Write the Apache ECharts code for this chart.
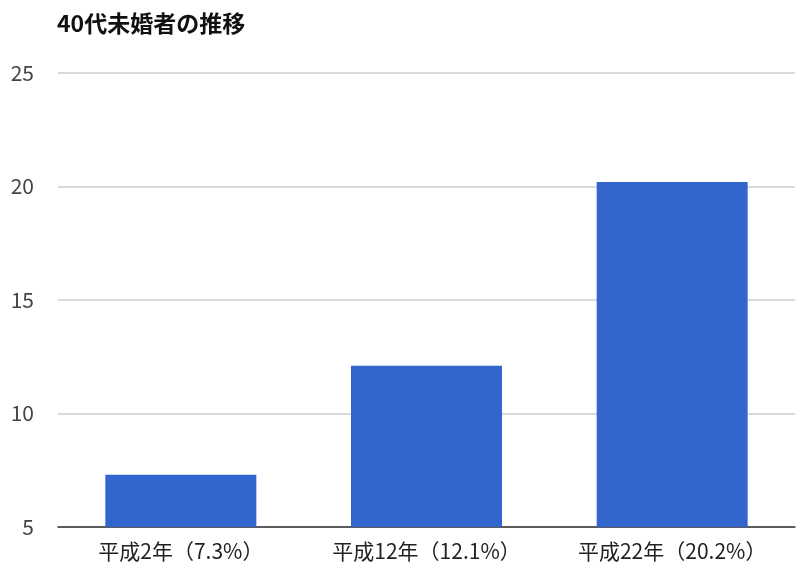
<!DOCTYPE html>
<html>
<head>
<meta charset="utf-8">
<script src="https://cdn.jsdelivr.net/npm/echarts@6/dist/echarts.min.js"></script>
<style>
html, body { margin: 0; padding: 0; background: #fff; }
#main { width: 800px; height: 576px; }
</style>
</head>
<body>
<div id="main"></div>
<script>
var categories = ['平成2年（7.3%）', '平成12年（12.1%）', '平成22年（20.2%）'];
var values = [7.3, 12.1, 20.2];
var yTicks = [5, 10, 15, 20, 25];

var font = '"Noto Sans CJK JP", "Noto Sans", sans-serif';

var chart = echarts.init(document.getElementById('main'));
chart.setOption({
    animation: false,
    title: {
        text: '40代未婚者の推移',
        left: 52,
        top: 7,
        textStyle: {fontFamily: font, fontSize: 23, fontWeight: 'bold', color: '#111'}
    },
    grid: {left: 58, right: 5, top: 73, bottom: 49},
    xAxis: {
        type: 'category',
        data: categories,
        axisLine: {lineStyle: {color: '#333', width: 1.5}},
        axisTick: {show: false},
        axisLabel: {fontFamily: font, fontSize: 21, color: '#222', margin: 14}
    },
    yAxis: {
        type: 'value',
        min: yTicks[0],
        max: yTicks[yTicks.length - 1],
        interval: 5,
        axisLine: {show: false},
        axisTick: {show: false},
        splitLine: {lineStyle: {color: '#cccccc', width: 1.5}},
        axisLabel: {fontFamily: font, fontSize: 21, color: '#444', margin: 24}
    },
    series: [{
        type: 'bar',
        data: values,
        barWidth: 151,
        itemStyle: {color: '#3366cc'}
    }]
});
</script>
</body>
</html>
